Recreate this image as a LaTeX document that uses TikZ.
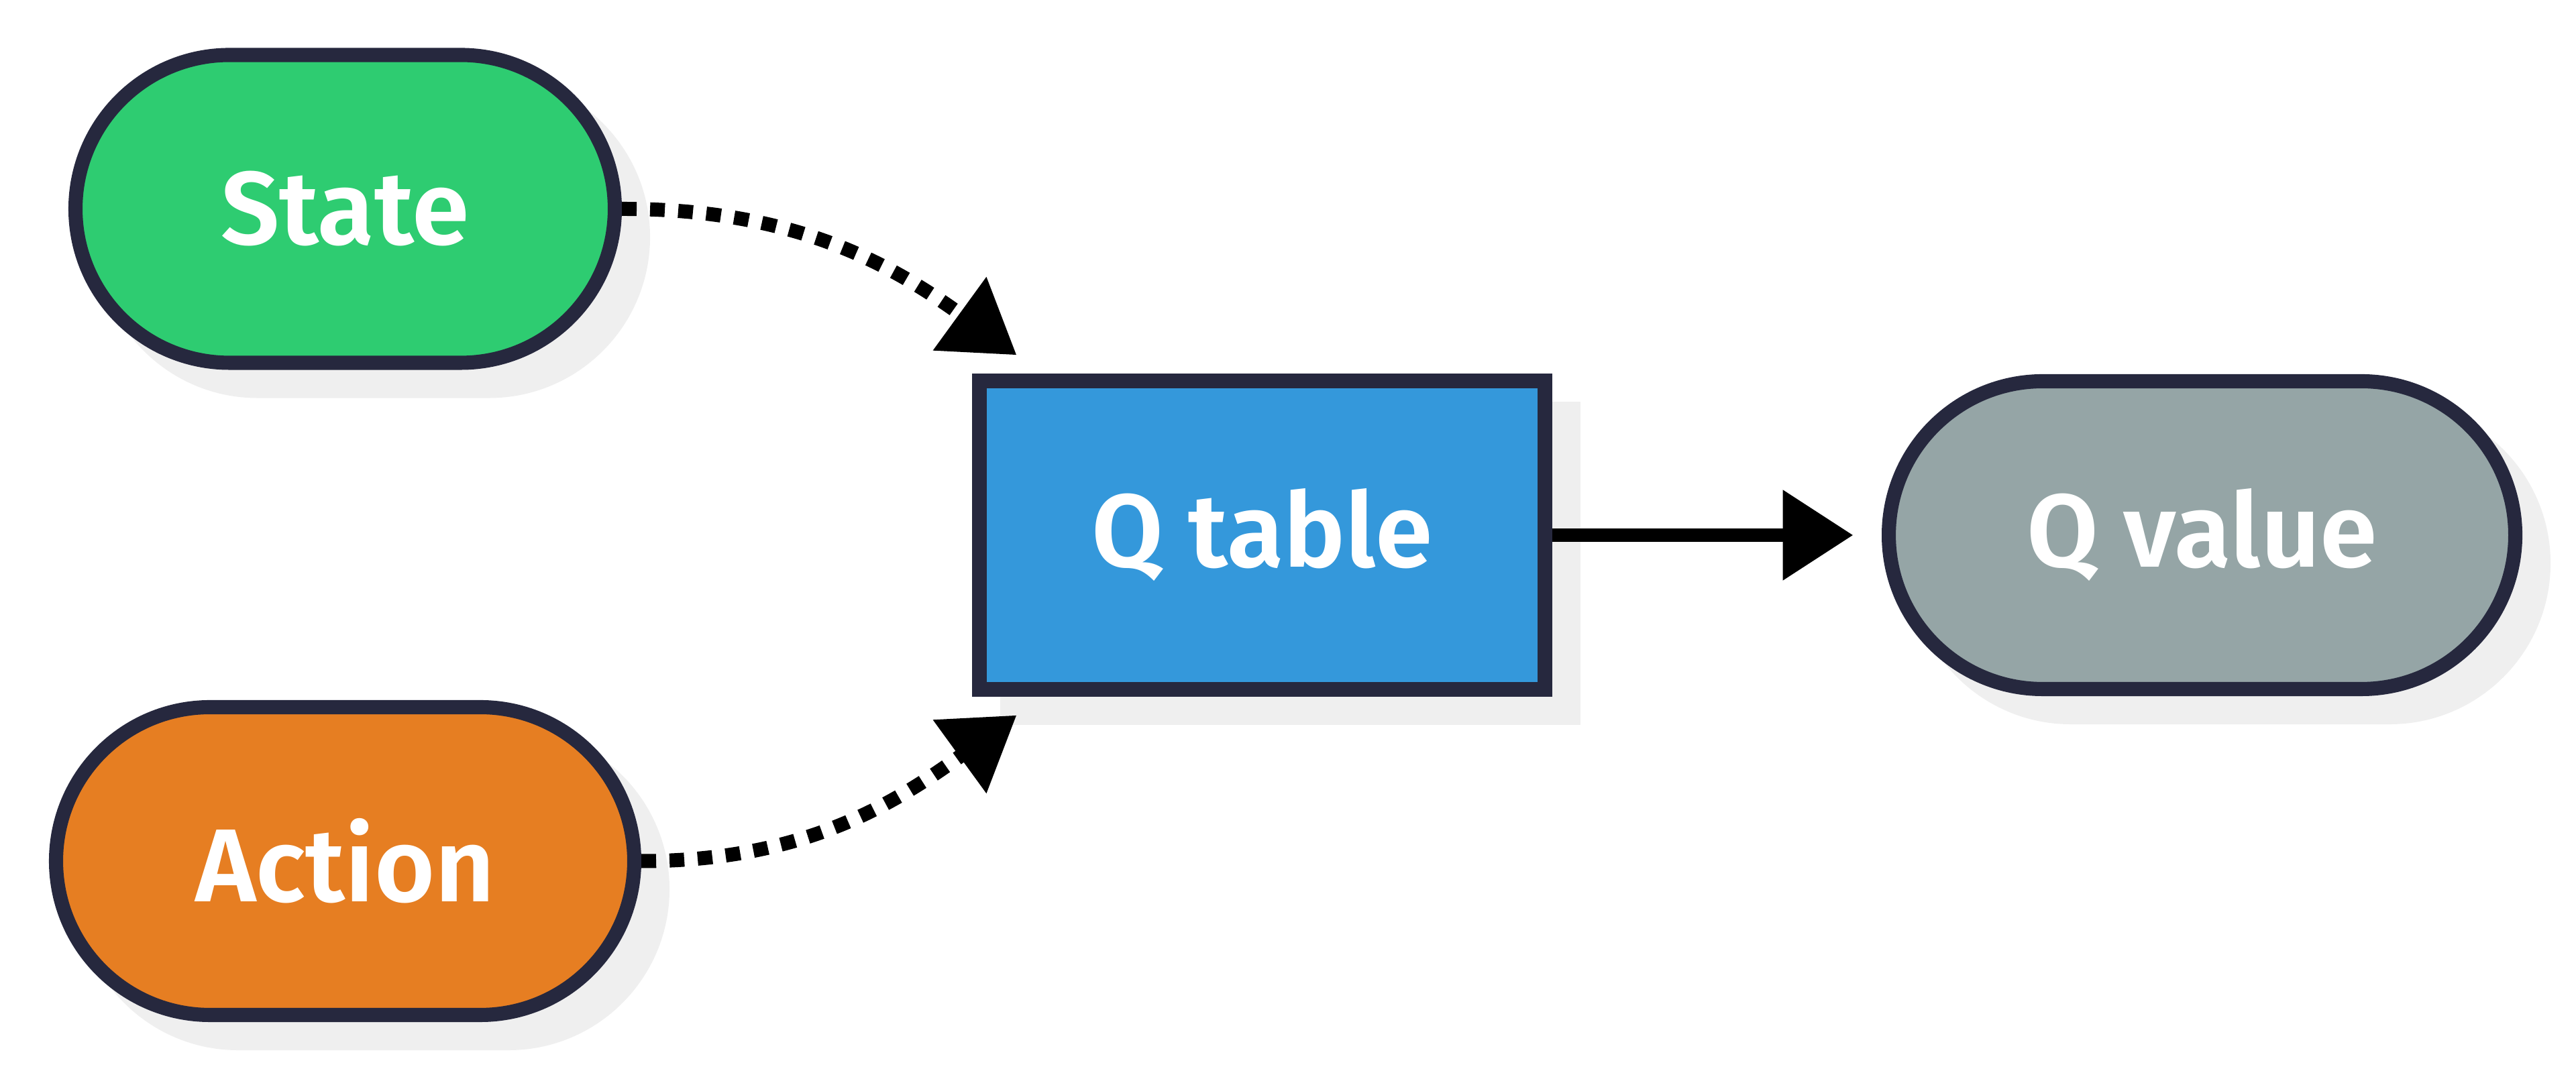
\documentclass[tikz,border=0pt]{standalone}
\usepackage{fontspec}
\setmainfont{Fira Sans}
\newfontfamily\labelfont{Fira Sans SemiBold}
\usetikzlibrary{shapes.misc, shadows, arrows.meta}

\definecolor{edgecol}{RGB}{38,40,62}
\definecolor{shadecol}{RGB}{239,239,239}
\definecolor{statecol}{HTML}{2ECC71}
\definecolor{actioncol}{HTML}{E67E22}
\definecolor{tablecol}{HTML}{3498DB}
\definecolor{valuecol}{HTML}{95A5A6}

\begin{document}
\begin{tikzpicture}[
    box/.style = {draw = edgecol, line width = 3pt, text = white, inner sep = 0pt,
        font = \fontsize{22}{26}\labelfont, minimum height = 2.295cm,
        drop shadow = {shadow xshift = 0.21cm, shadow yshift = -0.21cm, opacity = 1,
            fill = shadecol, draw = shadecol, line width = 3pt}},
    pill/.style = {box, shape = rounded rectangle},
    link/.style = {line width = 0.1cm, -{Triangle[length = 0.525cm, width = 0.65cm]}},
    dots/.style = {link, line width = 0.105cm, dash pattern = on 0.11cm off 0.1cm}]
    \useasboundingbox (0,0) rectangle (19.2,8);
    \node [pill, fill = statecol, minimum width = 4.02cm] (S) at (2.5725,6.4425) {State};
    \node [pill, fill = actioncol, minimum width = 4.31cm] (A) at (2.5725,1.58) {Action};
    \node [box, fill = tablecol, minimum width = 4.215cm, minimum height = 2.3cm] (QT) at (9.4075,4.01) {Q table};
    \node [pill, fill = valuecol, minimum width = 4.67cm] (QV) at (16.4125,4.01) {Q value};
    \draw [dots] (S.east) to[out = 0, in = 144] ([xshift = 0.33cm, yshift = 0.14cm]QT.north west);
    \draw [dots] (A.east) to[out = 0, in = -144] ([xshift = 0.33cm, yshift = -0.14cm]QT.south west);
    \draw [link] (QT.east) -- ([xshift = -0.2125cm]QV.west);
\end{tikzpicture}
\end{document}
